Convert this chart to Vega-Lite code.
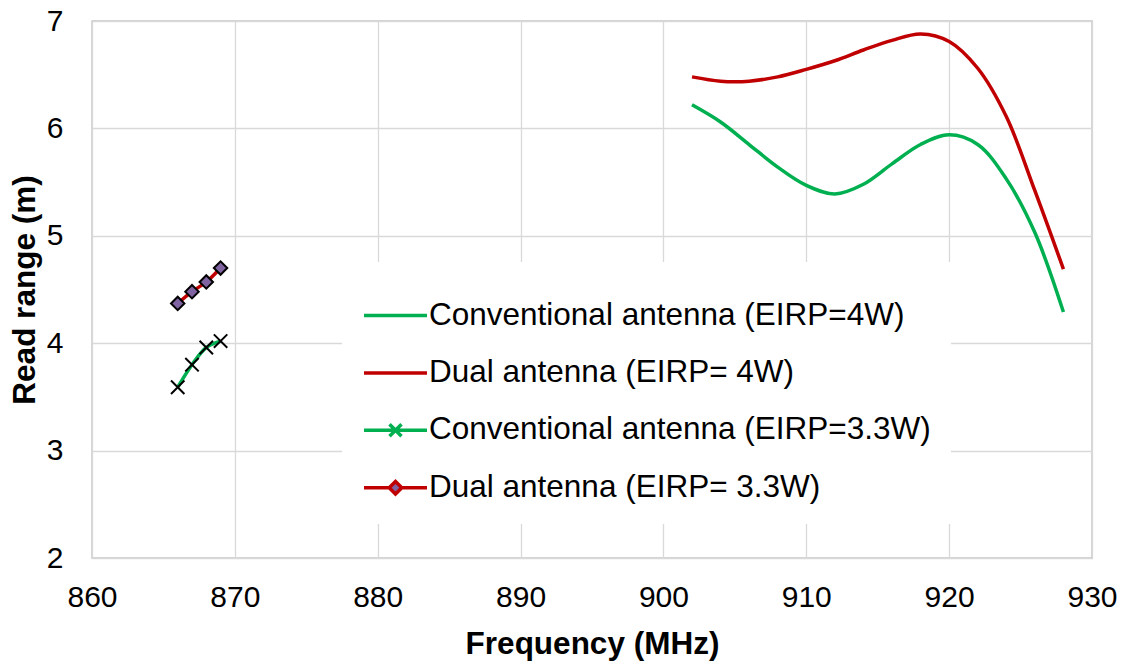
{
  "$schema": "https://vega.github.io/schema/vega-lite/v6.json",
  "autosize": {"type": "none"},
  "padding": {"left": 92, "top": 21, "right": 30, "bottom": 103},
  "width": 1000,
  "height": 537,
  "background": "white",
  "config": {
    "view": {"stroke": "#a6a6a6", "strokeWidth": 1.3},
    "font": "Liberation Sans",
    "axis": {"labelFont": "Liberation Sans", "titleFont": "Liberation Sans", "labelColor": "black", "titleColor": "black", "gridColor": "#d9d9d9", "gridWidth": 1.3, "domain": false, "ticks": false, "labelFontSize": 30, "titleFontSize": 31.5, "titleFontWeight": "bold", "labelFlush": false},
    "legend": {"labelFont": "Liberation Sans", "labelColor": "black"}
  },
  "data": {"values": [
    {"series": "Conventional antenna (EIRP=4W)", "f": 902, "r": 6.22},
    {"series": "Conventional antenna (EIRP=4W)", "f": 904, "r": 6.06},
    {"series": "Conventional antenna (EIRP=4W)", "f": 906, "r": 5.85},
    {"series": "Conventional antenna (EIRP=4W)", "f": 908, "r": 5.64},
    {"series": "Conventional antenna (EIRP=4W)", "f": 910, "r": 5.47},
    {"series": "Conventional antenna (EIRP=4W)", "f": 912, "r": 5.39},
    {"series": "Conventional antenna (EIRP=4W)", "f": 914, "r": 5.48},
    {"series": "Conventional antenna (EIRP=4W)", "f": 916, "r": 5.67},
    {"series": "Conventional antenna (EIRP=4W)", "f": 918, "r": 5.85},
    {"series": "Conventional antenna (EIRP=4W)", "f": 920, "r": 5.94},
    {"series": "Conventional antenna (EIRP=4W)", "f": 922, "r": 5.85},
    {"series": "Conventional antenna (EIRP=4W)", "f": 924, "r": 5.53},
    {"series": "Conventional antenna (EIRP=4W)", "f": 926, "r": 5.03},
    {"series": "Conventional antenna (EIRP=4W)", "f": 928, "r": 4.29},
    {"series": "Dual antenna (EIRP= 4W)", "f": 902, "r": 6.48},
    {"series": "Dual antenna (EIRP= 4W)", "f": 904, "r": 6.44},
    {"series": "Dual antenna (EIRP= 4W)", "f": 906, "r": 6.44},
    {"series": "Dual antenna (EIRP= 4W)", "f": 908, "r": 6.48},
    {"series": "Dual antenna (EIRP= 4W)", "f": 910, "r": 6.55},
    {"series": "Dual antenna (EIRP= 4W)", "f": 912, "r": 6.63},
    {"series": "Dual antenna (EIRP= 4W)", "f": 914, "r": 6.73},
    {"series": "Dual antenna (EIRP= 4W)", "f": 916, "r": 6.82},
    {"series": "Dual antenna (EIRP= 4W)", "f": 918, "r": 6.88},
    {"series": "Dual antenna (EIRP= 4W)", "f": 920, "r": 6.81},
    {"series": "Dual antenna (EIRP= 4W)", "f": 922, "r": 6.56},
    {"series": "Dual antenna (EIRP= 4W)", "f": 924, "r": 6.11},
    {"series": "Dual antenna (EIRP= 4W)", "f": 926, "r": 5.42},
    {"series": "Dual antenna (EIRP= 4W)", "f": 928, "r": 4.69},
    {"series": "Conventional antenna (EIRP=3.3W)", "f": 866, "r": 3.59},
    {"series": "Conventional antenna (EIRP=3.3W)", "f": 867, "r": 3.80},
    {"series": "Conventional antenna (EIRP=3.3W)", "f": 868, "r": 3.96},
    {"series": "Conventional antenna (EIRP=3.3W)", "f": 869, "r": 4.02},
    {"series": "Dual antenna (EIRP= 3.3W)", "f": 866, "r": 4.37},
    {"series": "Dual antenna (EIRP= 3.3W)", "f": 867, "r": 4.48},
    {"series": "Dual antenna (EIRP= 3.3W)", "f": 868, "r": 4.57},
    {"series": "Dual antenna (EIRP= 3.3W)", "f": 869, "r": 4.70}
  ]},
  "encoding": {
    "x": {"field": "f", "type": "quantitative", "title": "Frequency (MHz)",
      "scale": {"domain": [860, 930], "nice": false, "zero": false},
      "axis": {"values": [860, 870, 880, 890, 900, 910, 920, 930], "labelPadding": 24, "titlePadding": 16}},
    "y": {"field": "r", "type": "quantitative", "title": "Read range (m)",
      "scale": {"domain": [2, 7], "nice": false, "zero": false},
      "axis": {"values": [2, 3, 4, 5, 6, 7], "labelPadding": 29, "titlePadding": 5}}
  },
  "layer": [
    {
      "mark": {"type": "line", "interpolate": "catmull-rom", "strokeWidth": 3.5},
      "encoding": {
        "color": {"field": "series", "type": "nominal",
          "scale": {"domain": ["Conventional antenna (EIRP=4W)", "Dual antenna (EIRP= 4W)", "Conventional antenna (EIRP=3.3W)", "Dual antenna (EIRP= 3.3W)"],
            "range": ["#00b050", "#c00000", "#00b050", "#c00000"]},
          "legend": {"title": null, "orient": "none", "legendX": 250, "legendY": 241, "symbolType": "stroke", "symbolSize": 3969, "symbolStrokeWidth": 3.5, "labelFontSize": 31.5, "labelOffset": 0, "rowPadding": 8.4, "padding": 20, "fillColor": "white", "labelLimit": 800,
            "encode": {"symbols": {"update": {
              "shape": {"signal": "datum.value === 'Conventional antenna (EIRP=3.3W)' ? 'M-1,0L1,0M-0.19,-0.19L0.19,0.19M-0.19,0.19L0.19,-0.19' : (datum.value === 'Dual antenna (EIRP= 3.3W)' ? 'M-1,0L-0.2,0M0.2,0L1,0M0,-0.2L0.2,0L0,0.2L-0.2,0Z' : 'stroke')"},
              "fill": {"signal": "datum.value === 'Dual antenna (EIRP= 3.3W)' ? '#8064a2' : 'transparent'"}
            }}}}},
        "detail": {"field": "series"}
      }
    },
    {
      "transform": [{"filter": "indexof(datum.series, '3.3W') >= 0"}],
      "mark": {"type": "point", "filled": false, "fill": "#8064a2", "stroke": "black", "strokeWidth": 2, "size": 180, "opacity": 1},
      "encoding": {
        "shape": {"field": "series", "type": "nominal",
          "scale": {"domain": ["Conventional antenna (EIRP=3.3W)", "Dual antenna (EIRP= 3.3W)"], "range": ["M-1,-1L1,1M-1,1L1,-1", "diamond"]},
          "legend": null}
      }
    }
  ]
}
